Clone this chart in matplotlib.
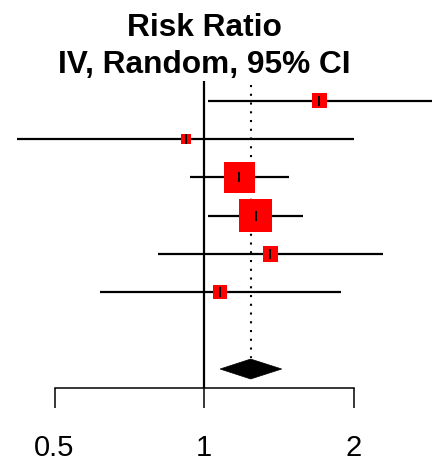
#! /usr/bin/env python3

import numpy as np
import matplotlib
matplotlib.use("Agg")
import matplotlib.pyplot as plt
from matplotlib.patches import Polygon

# study estimates (risk ratio) with 95% CI, and weights in %
rr = [1.706, 0.920, 1.178, 1.271, 1.360, 1.078]
ci_low = [1.017, 0.421, 0.937, 1.017, 0.807, 0.618]
ci_high = [2.872, 2.007, 1.485, 1.584, 2.288, 1.884]
weight = [8.0, 3.5, 35.1, 38.5, 8.0, 6.9]

# pooled estimate (diamond)
pooled = 1.241
pooled_low = 1.077
pooled_high = 1.433

tick_vals = [0.5, 1, 2]
tick_labels = ["0.5", "1", "2"]

plt.rcParams['font.family'] = ['Liberation Sans', 'DejaVu Sans']

fig = plt.figure(figsize=(4.4, 4.63), dpi=100)
ax = fig.add_axes([0, 0, 1, 1])
ax.set_xscale('log', base=2)
ax.set_xlim(0.3884, 2.984)
ax.set_ylim(9.452, -2.627)

rows = np.arange(len(rr))
pooled_row = len(rr) + 1
axis_row = pooled_row + 0.5

# null line and dotted pooled line
ax.plot([1, 1], [-0.514, axis_row], color='black', lw=1.6, solid_capstyle='butt')
ax.plot([pooled, pooled], [-0.41, pooled_row - 0.3], color='black', lw=1.5,
        linestyle=(0, (1, 3.2)))

# confidence intervals
ax.hlines(rows, ci_low, ci_high, color='black', lw=1.6)

# squares, area proportional to weight
side_px = 5.32*np.sqrt(np.array(weight))
ax.scatter(rr, rows, s=(side_px*0.72)**2, marker='s', color='#ff0000',
           edgecolors='none', zorder=3)
ax.plot(rr, rows, linestyle='none', marker='|', markersize=7.2, mew=1.4,
        color='black', zorder=4)

# diamond
dh = 0.26
diamond = Polygon([(pooled_low, pooled_row), (pooled, pooled_row - dh),
                   (pooled_high, pooled_row), (pooled, pooled_row + dh)],
                  closed=True, facecolor='black', edgecolor='black', lw=0.5)
ax.add_patch(diamond)

# x axis
for s in ['top', 'left', 'right']:
    ax.spines[s].set_visible(False)
ax.spines['bottom'].set_position(('data', axis_row))
ax.spines['bottom'].set_bounds(0.5, 2)
ax.spines['bottom'].set_linewidth(1.1)
ax.set_xticks(tick_vals)
ax.set_xticklabels(tick_labels, fontsize=21)
ax.xaxis.set_minor_locator(matplotlib.ticker.NullLocator())
ax.tick_params(axis='x', direction='out', length=14.4, width=1.1, pad=18.5)
ax.set_yticks([])

# header
ax.text(1, -1.688, "Risk Ratio", ha='center', va='baseline',
        fontsize=22.8, fontweight='bold')
ax.text(1, -0.715, "IV, Random, 95% CI", ha='center', va='baseline',
        fontsize=22.8, fontweight='bold')

fig.savefig("out.png", dpi=100)
